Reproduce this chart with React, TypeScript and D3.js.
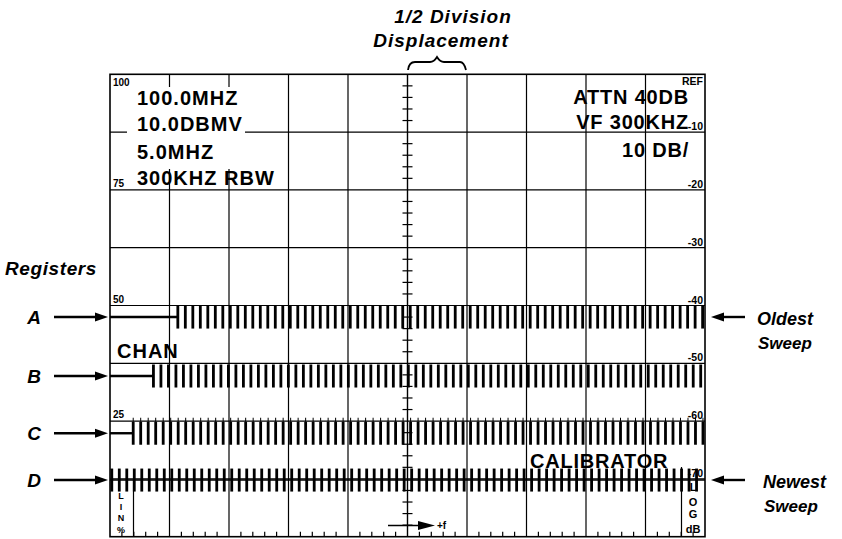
import React, { useEffect, useRef } from 'react';
import * as d3 from 'd3';

// graticule: 10 x 8 divisions
const H_DIVS = 10;
const V_DIVS = 8;

// left LIN scale labels (division from bottom)
const linLabels = ["100", "75", "50", "25"];
const linDivs = [8, 6, 4, 2];

// right LOG dB labels (division from bottom)
const dbLabels = ["REF", "-10", "-20", "-30", "-40", "-50", "-60", "-70"];
const dbDivs = [8, 7, 6, 5, 4, 3, 2, 1];

// register traces
const registers = ["A", "B", "C", "D"];
const traceLevel = [3.8, 2.78, 1.79, 0.98]; // baseline, divisions above bottom
const combStart = [1.14, 0.73, 0.39, 0.03]; // where the comb begins, divisions
const combPitch = 0.126; // divisions between comb lines
const combEnd = 9.97;

const leftReadout = ["100.0MHZ", "10.0DBMV", "5.0MHZ", "300KHZ RBW"];
const rightReadout = ["ATTN 40DB", "VF 300KHZ", "10 DB/"];

const App: React.FC = () => {
  const svgRef = useRef<SVGSVGElement>(null);

  useEffect(() => {
    if (!svgRef.current) return;
    const svg = d3.select(svgRef.current);
    svg.selectAll("*").remove();

    const width = 842;
    const height = 539;
    const left = 110, right = 705, top = 74.3, bottom = 536.7;

    svg.attr("width", width).attr("height", height).attr("viewBox", `0 0 ${width} ${height}`);

    const x = d3.scaleLinear().domain([0, H_DIVS]).range([left, right]);
    const y = d3.scaleLinear().domain([0, V_DIVS]).range([bottom, top]);
    const font = "'Liberation Sans', Arial, Helvetica, sans-serif";

    const g = svg.append("g");

    // grid lines
    g.append("g")
      .selectAll("line")
      .data(d3.range(1, H_DIVS))
      .enter()
      .append("line")
      .attr("x1", d => x(d)).attr("x2", d => x(d))
      .attr("y1", top).attr("y2", bottom)
      .attr("stroke", "#000").attr("stroke-width", d => d === 5 ? 1.4 : 1.2);

    g.append("g")
      .selectAll("line")
      .data(d3.range(1, V_DIVS))
      .enter()
      .append("line")
      .attr("x1", left).attr("x2", right)
      .attr("y1", d => y(d)).attr("y2", d => y(d))
      .attr("stroke", "#000").attr("stroke-width", 1.2);

    // minor ticks on the centre line
    g.append("g")
      .selectAll("line")
      .data(d3.range(1, V_DIVS * 5).filter(d => d % 5 !== 0))
      .enter()
      .append("line")
      .attr("x1", x(5) - 5).attr("x2", x(5) + 5)
      .attr("y1", d => y(d / 5)).attr("y2", d => y(d / 5))
      .attr("stroke", "#000").attr("stroke-width", 1.2);

    // minor ticks on the bottom edge
    g.append("g")
      .selectAll("line")
      .data(d3.range(1, H_DIVS * 5).filter(d => d % 5 !== 0))
      .enter()
      .append("line")
      .attr("x1", d => x(d / 5)).attr("x2", d => x(d / 5))
      .attr("y1", bottom - 5).attr("y2", bottom)
      .attr("stroke", "#000").attr("stroke-width", 1.2);

    // white patch behind left readout
    g.append("rect")
      .attr("x", 127).attr("y", 87).attr("width", 118).attr("height", 82)
      .attr("fill", "#fff");

    // frame
    g.append("rect")
      .attr("x", left).attr("y", top)
      .attr("width", right - left).attr("height", bottom - top)
      .attr("fill", "none").attr("stroke", "#000").attr("stroke-width", 1.6);

    // readouts
    g.append("g")
      .selectAll("text")
      .data(leftReadout)
      .enter()
      .append("text")
      .attr("x", 137)
      .attr("y", (d, i) => [105, 131, 159, 185][i])
      .text(d => d)
      .attr("letter-spacing", 1)
      .attr("font-family", font).attr("font-weight", "bold").attr("font-size", 20);

    g.append("g")
      .selectAll("text")
      .data(rightReadout)
      .enter()
      .append("text")
      .attr("x", 689)
      .attr("y", (d, i) => [104, 129, 157][i])
      .attr("text-anchor", "end")
      .text(d => d)
      .attr("letter-spacing", 0.8)
      .attr("font-family", font).attr("font-weight", "bold").attr("font-size", 20);

    // scale labels
    g.append("g")
      .selectAll("text")
      .data(linLabels)
      .enter()
      .append("text")
      .attr("x", left + 3)
      .attr("y", (d, i) => linDivs[i] === 8 ? y(8) + 12 : y(linDivs[i]) - 3)
      .text(d => d)
      .attr("font-family", font).attr("font-size", 10).attr("font-weight", "bold");

    g.append("g")
      .selectAll("text")
      .data(dbLabels)
      .enter()
      .append("text")
      .attr("x", right - 2)
      .attr("y", (d, i) => dbDivs[i] === 8 ? y(8) + 11 : y(dbDivs[i]) - 2)
      .attr("text-anchor", "end")
      .text(d => d)
      .attr("font-family", font).attr("font-size", 10.5).attr("font-weight", "bold");

    g.append("text").attr("x", 117).attr("y", 358).text("CHAN").attr("letter-spacing", 1)
      .attr("font-family", font).attr("font-weight", "bold").attr("font-size", 20);
    g.append("text").attr("x", 530).attr("y", 468).text("CALIBRATOR").attr("letter-spacing", 0.8)
      .attr("font-family", font).attr("font-weight", "bold").attr("font-size", 20);

    // traces
    registers.forEach((reg, i) => {
      const base = y(traceLevel[i]);
      const half = 11.5;
      const tg = g.append("g");
      if (combStart[i] > 0.05) {
        tg.append("line")
          .attr("x1", left).attr("x2", x(combStart[i]))
          .attr("y1", base).attr("y2", base)
          .attr("stroke", "#000").attr("stroke-width", 2.4);
      } else {
        tg.append("line")
          .attr("x1", left).attr("x2", right)
          .attr("y1", base).attr("y2", base)
          .attr("stroke", "#000").attr("stroke-width", 1.6);
      }
      const teeth = d3.range(combStart[i], combEnd, combPitch);
      tg.selectAll("rect")
        .data(teeth)
        .enter()
        .append("rect")
        .attr("x", d => x(d) - 1.4)
        .attr("y", base - half)
        .attr("width", 2.8)
        .attr("height", half * 2)
        .attr("fill", "#000");
      if (reg === "C") {
        tg.selectAll("line.spike")
          .data(teeth)
          .enter()
          .append("line")
          .attr("class", "spike")
          .attr("x1", d => x(d)).attr("x2", d => x(d))
          .attr("y1", base - half - 4).attr("y2", base - half)
          .attr("stroke", "#000").attr("stroke-width", 1);
      }

      // left arrow + letter
      svg.append("line")
        .attr("x1", 54).attr("x2", 98).attr("y1", base).attr("y2", base)
        .attr("stroke", "#000").attr("stroke-width", 2.4);
      svg.append("path")
        .attr("d", `M108,${base} L95,${base - 4.5} L95,${base + 4.5} Z`)
        .attr("fill", "#000");
      svg.append("text")
        .attr("x", 34).attr("y", base + 7)
        .attr("text-anchor", "middle")
        .text(reg)
        .attr("font-family", font).attr("font-weight", "bold").attr("font-style", "italic")
        .attr("font-size", 19);
    });

    // LIN % and LOG dB boxes
    g.append("line").attr("x1", 133.5).attr("x2", 133.5).attr("y1", 480).attr("y2", bottom)
      .attr("stroke", "#000").attr("stroke-width", 1.2);
    g.append("line").attr("x1", 681.5).attr("x2", 681.5).attr("y1", 467).attr("y2", bottom)
      .attr("stroke", "#000").attr("stroke-width", 1.2);
    ["L", "I", "N", "%"].forEach((c, i) => {
      g.append("text").attr("x", 121).attr("y", [499, 510, 521, 533][i])
        .attr("text-anchor", "middle").text(c)
        .attr("font-family", font).attr("font-weight", "bold").attr("font-size", 9);
    });
    ["L", "O", "G", "dB"].forEach((c, i) => {
      g.append("text").attr("x", 693).attr("y", [491, 506, 518, 533][i])
        .attr("text-anchor", "middle").text(c)
        .attr("font-family", font).attr("font-weight", "bold").attr("font-size", 11);
    });

    // +f arrow
    g.append("line").attr("x1", 388).attr("x2", 422).attr("y1", 525.5).attr("y2", 525.5)
      .attr("stroke", "#000").attr("stroke-width", 1.4);
    g.append("path").attr("d", "M435,525.5 L418,521 L418,530 Z").attr("fill", "#000");
    g.append("text").attr("x", 437).attr("y", 529).text("+f")
      .attr("font-family", font).attr("font-weight", "bold").attr("font-size", 10);

    // right arrows
    [[317, "Oldest", "Sweep", 757], [480, "Newest", "Sweep", 763]].forEach(([yy, a, b, tx]) => {
      const yv = yy as number;
      svg.append("line").attr("x1", 720).attr("x2", 745).attr("y1", yv).attr("y2", yv)
        .attr("stroke", "#000").attr("stroke-width", 2.4);
      svg.append("path").attr("d", `M711,${yv} L724,${yv - 4.5} L724,${yv + 4.5} Z`).attr("fill", "#000");
      svg.append("text").attr("x", tx as number).attr("y", yv + 8).text(a as string)
        .attr("font-family", font).attr("font-weight", "bold").attr("font-style", "italic").attr("font-size", 18);
      svg.append("text").attr("x", (tx as number) + 1).attr("y", yv + 32).text(b as string)
        .attr("font-family", font).attr("font-weight", "bold").attr("font-style", "italic").attr("font-size", 17);
    });

    svg.append("text").attr("x", 5).attr("y", 275).text("Registers").attr("letter-spacing", 0.6)
      .attr("font-family", font).attr("font-weight", "bold").attr("font-style", "italic").attr("font-size", 19);

    // title + brace
    svg.append("text").attr("x", 453).attr("y", 23).attr("text-anchor", "middle").text("1/2 Division")
      .attr("letter-spacing", 1)
      .attr("font-family", font).attr("font-weight", "bold").attr("font-style", "italic").attr("font-size", 19);
    svg.append("text").attr("x", 441).attr("y", 47).attr("text-anchor", "middle").text("Displacement")
      .attr("letter-spacing", 1)
      .attr("font-family", font).attr("font-weight", "bold").attr("font-style", "italic").attr("font-size", 19);
    svg.append("path")
      .attr("d", "M408,70 Q409,62 415,62 L430,62 Q434,62 437,57 Q440,62 444,62 L460,62 Q464,62 466,70")
      .attr("fill", "none").attr("stroke", "#000").attr("stroke-width", 1.8);
  }, []);

  return (
    <div style={{ position: "absolute", left: 0, top: 0, width: 842, height: 539, background: "#fff" }}>
      <svg ref={svgRef} style={{ display: "block" }}></svg>
    </div>
  );
};

export default App;
